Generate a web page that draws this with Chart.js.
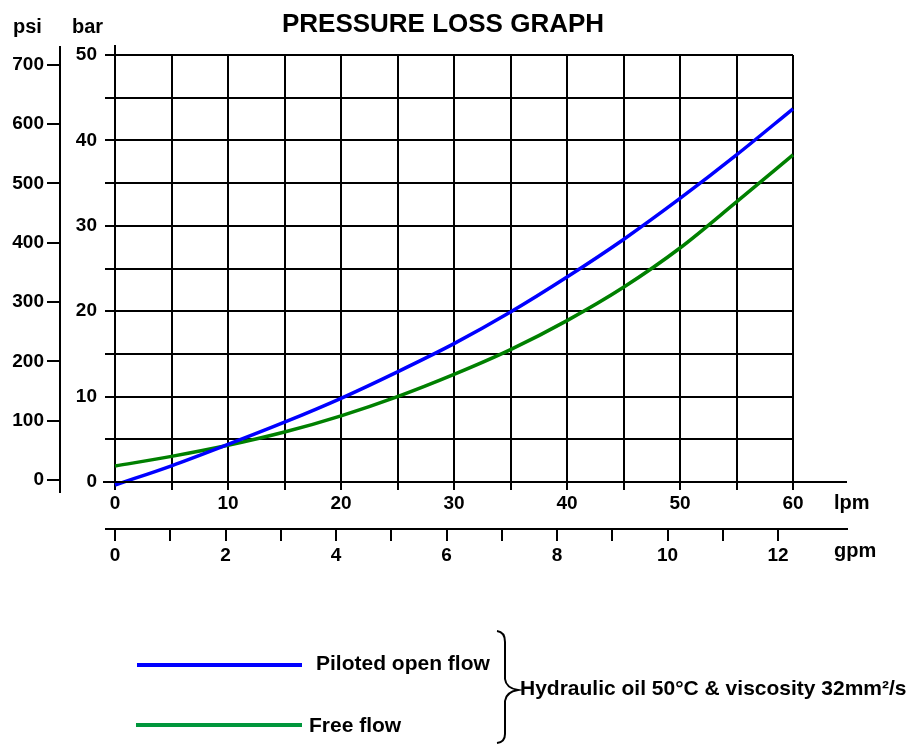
<!DOCTYPE html>
<html><head><meta charset="utf-8">
<script src="https://cdn.jsdelivr.net/npm/chart.js@4"></script>
<style>html,body{margin:0;padding:0;background:#fff}canvas{display:block}</style>
</head><body>
<canvas id="c" width="909" height="744"></canvas>
<script>
// ---- data ----
const flowLpm = [0, 5, 10, 15, 20, 25, 30, 35, 40, 45, 50, 55, 60];
const pilotedOpenFlow = [-0.35, 1.9, 4.4, 7.0, 9.8, 12.9, 16.2, 19.9, 24.0, 28.4, 33.2, 38.3, 43.7];
const freeFlow = [1.87, 3.0, 4.3, 5.85, 7.75, 10.0, 12.6, 15.5, 18.9, 22.8, 27.4, 32.8, 38.3];

const lpmGrid = [0, 5, 10, 15, 20, 25, 30, 35, 40, 45, 50, 55, 60];
const lpmLabels = [0, 10, 20, 30, 40, 50, 60];
const gpmGrid = [0, 1, 2, 3, 4, 5, 6, 7, 8, 9, 10, 11, 12];
const gpmLabels = [0, 2, 4, 6, 8, 10, 12];
const barGrid = [0, 5, 10, 15, 20, 25, 30, 35, 40, 45, 50];
const barLabels = [0, 10, 20, 30, 40, 50];
const psiTicks = [0, 100, 200, 300, 400, 500, 600, 700];

const seriesNames = ['Piloted open flow', 'Free flow'];
const titleText = 'PRESSURE LOSS GRAPH';
const noteText = 'Hydraulic oil 50\u00B0C & viscosity 32mm\u00B2/s';

const FONT = "'Liberation Sans', Arial, Helvetica, sans-serif";
const BLUE = '#0000ff';
const GREEN = '#008000';
const LEGEND_GREEN = '#00963c';

function setTicks(list) {
  return function (scale) { scale.ticks = list.map(v => ({ value: v })); };
}
function labelIf(list) {
  return function (v) { return list.includes(v) ? String(v) : ''; };
}

const decor = {
  id: 'decor',
  afterDraw(chart) {
    const ctx = chart.ctx;
    const ca = chart.chartArea;
    const sx = chart.scales.x, sg = chart.scales.x2, sp = chart.scales.y2;
    ctx.save();
    ctx.strokeStyle = '#000';
    ctx.lineWidth = 2;
    ctx.lineCap = 'butt';
    // axis line extensions
    ctx.beginPath();
    ctx.moveTo(ca.left - 12, sx.top); ctx.lineTo(ca.right + 54, sx.top);
    ctx.moveTo(ca.left - 10, sg.top); ctx.lineTo(ca.right + 55, sg.top);
    ctx.moveTo(ca.left, ca.top - 10); ctx.lineTo(ca.left, ca.top);
    ctx.moveTo(sp.right, ca.top - 9); ctx.lineTo(sp.right, ca.bottom + 11);
    ctx.stroke();

    ctx.fillStyle = '#000';
    ctx.textBaseline = 'alphabetic';
    // title
    ctx.font = 'bold 26px ' + FONT;
    ctx.textAlign = 'center';
    ctx.fillText(titleText, 443, 32);
    // unit labels
    ctx.font = 'bold 20px ' + FONT;
    ctx.textAlign = 'left';
    ctx.fillText('psi', 13, 33);
    ctx.fillText('bar', 72, 33);
    ctx.fillText('lpm', ca.right + 41, sx.top + 27);
    ctx.fillText('gpm', ca.right + 41, sg.top + 28);

    // legend
    const ds = chart.data.datasets;
    ctx.lineWidth = 4;
    ctx.strokeStyle = ds[0].borderColor;
    ctx.beginPath(); ctx.moveTo(137, 665); ctx.lineTo(302, 665); ctx.stroke();
    ctx.strokeStyle = LEGEND_GREEN;
    ctx.beginPath(); ctx.moveTo(136, 725); ctx.lineTo(302, 725); ctx.stroke();
    ctx.font = 'bold 21px ' + FONT;
    ctx.fillText(ds[0].label, 316, 670);
    ctx.fillText(ds[1].label, 309, 732);

    // brace
    ctx.strokeStyle = '#000';
    ctx.lineWidth = 2;
    ctx.beginPath();
    ctx.moveTo(497, 631);
    ctx.quadraticCurveTo(505, 632, 505, 642);
    ctx.lineTo(505, 679);
    ctx.quadraticCurveTo(506, 688, 518, 690);
    ctx.quadraticCurveTo(506, 692, 505, 701);
    ctx.lineTo(505, 734);
    ctx.quadraticCurveTo(505, 742, 497, 743);
    ctx.stroke();

    ctx.font = 'bold 21px ' + FONT;
    ctx.fillText(noteText, 520, 695);
    ctx.restore();
  }
};

new Chart(document.getElementById('c'), {
  type: 'line',
  data: {
    datasets: [
      {
        label: seriesNames[0],
        data: flowLpm.map((x, i) => ({ x: x, y: pilotedOpenFlow[i] })),
        borderColor: BLUE, borderWidth: 3.5, pointRadius: 0,
        cubicInterpolationMode: 'monotone', clip: 8,
        xAxisID: 'x', yAxisID: 'y'
      },
      {
        label: seriesNames[1],
        data: flowLpm.map((x, i) => ({ x: x, y: freeFlow[i] })),
        borderColor: GREEN, borderWidth: 3.5, pointRadius: 0,
        cubicInterpolationMode: 'monotone', clip: 8,
        xAxisID: 'x', yAxisID: 'y'
      }
    ]
  },
  options: {
    responsive: false,
    animation: false,
    devicePixelRatio: 1,
    layout: { padding: { left: 0, right: 116, top: 55, bottom: 179 } },
    plugins: { legend: { display: false }, title: { display: false }, tooltip: { enabled: false } },
    scales: {
      x: {
        type: 'linear', position: 'bottom', weight: 0, min: 0, max: 60,
        afterBuildTicks: setTicks(lpmGrid),
        afterFit: s => { s.height = 47; },
        grid: { color: '#000', lineWidth: 2, tickLength: 8, drawTicks: true },
        border: { display: true, color: '#000', width: 2 },
        ticks: { callback: labelIf(lpmLabels), autoSkip: false, maxRotation: 0, padding: 2,
                 color: '#000', font: { family: FONT, size: 19, weight: 'bold' } }
      },
      x2: {
        type: 'linear', position: 'bottom', weight: 1, min: 0, max: 12.27,
        afterBuildTicks: setTicks(gpmGrid),
        afterFit: s => { s.height = 36; },
        grid: { color: '#000', lineWidth: 2, tickLength: 12, drawOnChartArea: false },
        border: { display: true, color: '#000', width: 2 },
        ticks: { callback: labelIf(gpmLabels), autoSkip: false, maxRotation: 0, padding: 3,
                 color: '#000', font: { family: FONT, size: 19, weight: 'bold' } }
      },
      y: {
        type: 'linear', position: 'left', weight: 0, min: 0, max: 50,
        afterBuildTicks: setTicks(barGrid),
        afterFit: s => { s.width = 55; },
        grid: { color: '#000', lineWidth: 2, tickLength: 10 },
        border: { display: true, color: '#000', width: 2 },
        ticks: { callback: labelIf(barLabels), autoSkip: false, padding: 8,
                 color: '#000', font: { family: FONT, size: 19, weight: 'bold' } }
      },
      y2: {
        type: 'linear', position: 'left', weight: 1, min: -3, max: 716,
        afterBuildTicks: setTicks(psiTicks),
        afterFit: s => { s.width = 60; },
        grid: { color: '#000', lineWidth: 2, tickLength: 13, drawOnChartArea: false },
        border: { display: true, color: '#000', width: 2 },
        ticks: { autoSkip: false, padding: 3,
                 color: '#000', font: { family: FONT, size: 19, weight: 'bold' } }
      }
    }
  },
  plugins: [decor]
});
</script>
</body></html>
